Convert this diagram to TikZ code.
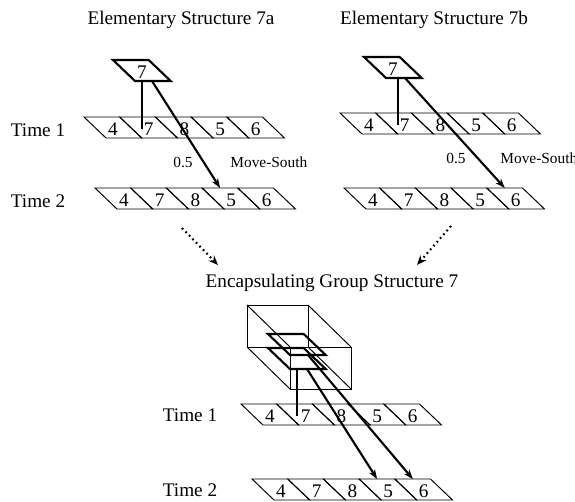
\documentclass[tikz,border=0pt]{standalone}
\usepackage{fontspec}
\setmainfont{Liberation Serif}
\usetikzlibrary{arrows.meta}
\tikzset{
  cellln/.style={draw, line width=0.5pt, line join=miter},
  elem/.style={draw, line width=1.1pt, line join=miter},
  box/.style={draw, line width=0.5pt},
  num/.style={font=\normalsize, inner sep=0pt},
  ttl/.style={font=\normalsize, inner sep=0pt},
  lbl/.style={font=\footnotesize, inner sep=0pt},
  stem/.style={line width=1.1pt},
  mv/.style={-{Stealth[length=5pt, width=3.6pt]}, line width=1.1pt},
  gen/.style={-{Stealth[length=5pt, width=4pt]}, line width=1.1pt, dash pattern=on 0.9pt off 1.7pt},
}

\begin{document}
\begin{tikzpicture}[x=0.52pt, y=-0.52pt]
\useasboundingbox (0,0) rectangle (575,502);

%% ---- titles
\node[ttl] (t7a) at (181,20) {Elementary Structure 7a};
\node[ttl] (t7b) at (434,20) {Elementary Structure 7b};
\node[ttl] (tgrp) at (332,283) {Encapsulating Group Structure 7};

%% ---- time steps
\node[ttl] (a1-time) at (38,130) {Time 1};
\node[ttl] (a2-time) at (38,201) {Time 2};
\node[ttl] (c1-time) at (190,415) {Time 1};
\node[ttl] (c2-time) at (190,490) {Time 2};

%% ---- the group box, drawn first so the elements sit on it
\draw[box] (247,305) rectangle (308,347);
\draw[box] (290,347) rectangle (351,389);
\foreach \cx/\cy in {247/305, 308/305, 247/347, 308/347}
  \draw[box] (\cx,\cy) -- ++(43,42);

%% ---- six rows of cells, one per time step
\foreach \r/\x/\y in {a1/84/117, a2/95/188, b1/340/113, b2/344/188, c1/241/404, c2/252/479}{
  \foreach \dig [count=\i from 0] in {4,7,8,5,6}{
    \draw[cellln] (\x+\i*35.7,\y) -- ++(35.7,0) -- ++(22,21) -- ++(-35.7,0) -- cycle;
    \node[num] (\r-\dig) at (\x+\i*35.7+29,\y+12) {\dig};
    \coordinate (\r-\dig-t) at (\x+\i*35.7+18,\y);
  }
}

%% ---- the element "7" above each row (two of them inside the box)
\foreach \e/\x/\y in {pa/113/60, pb/364/57, pcu/268/334, pcl/268/348}
  \draw[elem] (\x,\y) -- ++(35.7,0) -- ++(22,21) -- ++(-35.7,0) -- cycle;
\node[num] (pa) at (142,72) {7};
\node[num] (pb) at (393,69) {7};

\coordinate (pa-foot) at (142,81);   \coordinate (pa-tail) at (152,81);
\coordinate (pb-foot) at (398,78);   \coordinate (pb-tail) at (405,78);
\coordinate (pcl-foot) at (297,369); \coordinate (pcl-tail) at (307,369);
\coordinate (pcu-tail) at (308,355);

\draw[stem] (pa-foot) -- (pa-foot |- a1-7);
\draw[stem] (pb-foot) -- (pb-foot |- b1-7);
\draw[stem] (pcl-foot) -- (pcl-foot |- c1-7);

%% ---- moves from time 1 to time 2
\draw[mv] (pa-tail) -- (a2-5-t);
\draw[mv] (pb-tail) -- (b2-6-t);
\draw[mv] (pcl-tail) -- (c2-5-t);
\draw[mv] (pcu-tail) -- (c2-6-t);

\node[lbl] (pa-prob) at (183,162) {0.5};
\node[lbl, anchor=west] (pa-move) at (230,162) {Move-South};
\node[lbl] (pb-prob) at (456,158) {0.5};
\node[lbl, anchor=west] (pb-move) at (500,158) {Move-South};

%% ---- both elementary structures feed the group
\coordinate (ga) at (182,228); \coordinate (ha) at (218,265);
\coordinate (gb) at (451,226); \coordinate (hb) at (417,265);
\draw[gen] (ga) -- (ha);
\draw[gen] (gb) -- (hb);
\end{tikzpicture}
\end{document}
